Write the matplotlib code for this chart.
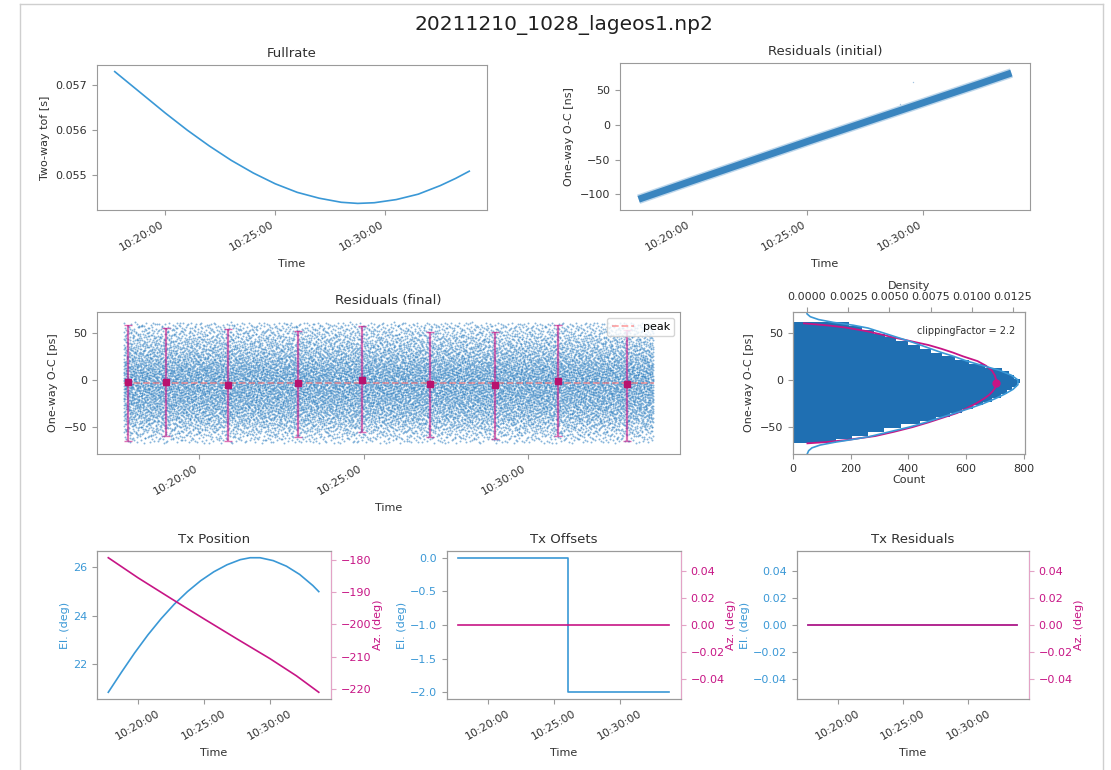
import numpy as np
import pandas as pd
import matplotlib
matplotlib.use("Agg")
import matplotlib.pyplot as plt
import matplotlib.dates as mdates
from matplotlib.lines import Line2D
from matplotlib.ticker import MultipleLocator, FormatStrFormatter

plt.rcParams['font.family'] = ['DejaVu Sans']
plt.rcParams['font.size'] = 8

# times are minutes relative to 10:20:00
T0 = pd.Timestamp("2021-12-10 10:20:00")
t_first, t_last = -2.30, 13.82

# Fullrate: two-way time of flight [s]
fullrate_t = [-2.30, -1.0, 0.0, 1.0, 2.0, 3.0, 4.0, 5.0, 6.0, 7.0, 8.0, 8.75, 9.5, 10.5, 11.5, 12.5, 13.2, 13.82]
fullrate_tof = [0.05730, 0.05678, 0.05638, 0.05600, 0.05565, 0.05533, 0.05505, 0.05481, 0.05462,
                0.05449, 0.05440, 0.054375, 0.05439, 0.05446, 0.05458, 0.05477, 0.05493, 0.05509]

# Residuals (initial) [ns]: centre of the band + a couple of outliers
init_t = [-2.30, 0.0, 2.5, 5.0, 7.5, 10.0, 12.5, 13.82]
init_oc = [-107.5, -81.0, -52.5, -24.0, 4.0, 32.0, 60.0, 75.0]
init_out_t = [9.57, 8.99]
init_out_oc = [61.9, 30.5]

# Residuals (final) [ps]: histogram of residuals (4 ps bins)
hist_centers = [-65, -61, -57, -53, -49, -45, -41, -37, -33, -29, -25, -21, -17, -13, -9, -5,
                -1, 3, 7, 11, 15, 19, 23, 27, 31, 35, 39, 43, 47, 51, 55, 59]
hist_counts = [150, 205, 260, 315, 375, 440, 495, 545, 585, 625, 660, 690, 720, 742, 760, 778,
               788, 768, 750, 725, 665, 612, 562, 518, 480, 440, 400, 358, 318, 280, 240, 195]
bin_w = 4.0

# normal points (2 min bins)
np_t = [-2.15, -1.01, 0.87, 3.02, 4.95, 7.01, 8.99, 10.91, 13.0]
np_mean = [-2.7, -2.7, -5.8, -3.4, 0.3, -4.8, -5.5, -0.7, -4.8]
np_hi = [58.7, 55.3, 53.6, 52.2, 57.3, 51.2, 50.9, 58.7, 53.0]
np_lo = [-65.2, -59.7, -65.2, -60.9, -55.6, -60.1, -62.1, -59.4, -64.5]
peak = -3.0

# fitted curve on histogram (count vs residual)
fit_v = [60.0, 57.5, 55.5, 52, 48.8, 45, 41, 37, 33, 29, 25, 20, 15, 10, 5, 0, -4, -8, -12, -16,
         -20, -25, -30, -35, -40, -45, -50, -55, -59.5, -63.8, -66, -67.2]
fit_c = [38, 130, 183, 250, 298, 350, 410, 470, 515, 555, 590, 640, 670, 690, 700, 705, 706, 702,
         693, 680, 662, 635, 603, 570, 520, 470, 415, 350, 285, 183, 110, 50]
peak_count = 705

# density curve (top axis)
kde_v = [-79, -75, -72, -69, -66, -63, -60, -55, -50, -45, -40, -35, -30, -25, -20, -15, -10, -5,
         0, 5, 10, 15, 20, 25, 30, 35, 40, 45, 50, 55, 58, 61, 64, 67, 70, 72]
kde_d = [0.0, 0.0001, 0.0003, 0.0008, 0.0017, 0.0028, 0.0038, 0.0050, 0.0062, 0.0072, 0.0081,
         0.0090, 0.0099, 0.0107, 0.0114, 0.0120, 0.0125, 0.0128, 0.0128, 0.0124, 0.0117, 0.0107,
         0.0097, 0.0089, 0.0080, 0.0072, 0.0064, 0.0055, 0.0046, 0.0037, 0.0028, 0.0016, 0.0007,
         0.0002, 0.0, 0.0]

# Tx position
pos_t = [-2.25, -1.25, -0.25, 0.75, 1.75, 2.75, 3.75, 4.75, 5.75, 6.75, 7.75, 8.5, 9.25, 10.25,
         11.25, 12.25, 13.25, 13.7]
pos_el = [20.83, 21.66, 22.46, 23.20, 23.87, 24.47, 24.99, 25.44, 25.81, 26.10, 26.31, 26.39,
          26.39, 26.27, 26.04, 25.70, 25.24, 24.99]
az_t = [-2.25, 0.0, 2.5, 5.0, 7.5, 10.0, 12.0, 13.7]
pos_az = [-179.4, -185.6, -192.0, -198.3, -204.5, -210.6, -215.9, -221.0]

# Tx offsets
off_t = [-2.25, 6.1, 6.1, 13.7]
off_el = [0.0, 0.0, -2.0, -2.0]
off_az_t = [-2.25, 13.7]
off_az = [0.0, 0.0]

# Tx residuals
res_t = [-2.25, 13.7]
res_el = [0.0, 0.0]
res_az = [0.0, 0.0]

BLUE = '#1f6fb2'
LBLUE = '#3a98d6'
MAG = '#c71585'
PINK = '#e3a3c6'
SPINE = '#9a9a9a'
TXT = '#303030'


def to_time(m):
    return (T0 + pd.to_timedelta(np.asarray(m, dtype=float), unit="min")).to_numpy()


def halton(k, base):
    # quasi-random placement of the residual points inside the pass
    k = np.array(k, dtype=np.int64)
    r = np.zeros(len(k))
    f = 1.0 / base
    while np.any(k > 0):
        r += f * (k % base)
        k //= base
        f /= base
    return r


W, H = 1111, 770
fig = plt.figure(figsize=(W / 100, H / 100), dpi=100)


def box(l, t, r, b):
    return [l / W, 1 - b / H, (r - l) / W, (b - t) / H]


def style(ax):
    for s in ax.spines.values():
        s.set_color(SPINE)
    ax.tick_params(colors=SPINE, labelcolor=TXT, labelsize=8)
    ax.title.set_color(TXT)


def time_axis(ax, ha):
    span = t_last - t_first
    ax.set_xlim(to_time([t_first - 0.05 * span, t_last + 0.05 * span]))
    ax.xaxis.set_major_locator(mdates.MinuteLocator(byminute=range(0, 60, 5)))
    ax.xaxis.set_major_formatter(mdates.DateFormatter('%H:%M:%S'))
    for lab in ax.get_xticklabels():
        lab.set_rotation(30)
        lab.set_ha(ha)
    ax.set_xlabel('Time', color=TXT)


# Fullrate
ax1 = fig.add_axes(box(97, 65, 487, 210))
ax1.plot(to_time(fullrate_t), fullrate_tof, color=LBLUE, lw=1.2)
ax1.set_title('Fullrate', fontsize=9.5)
ax1.set_ylabel('Two-way tof [s]', color=TXT)
style(ax1)
time_axis(ax1, 'right')

# Residuals (initial)
ax2 = fig.add_axes(box(620, 63, 1030, 210))
ax2.plot(to_time(init_t), init_oc, color='#2a7dc0', lw=7, alpha=0.3, solid_capstyle='butt')
ax2.plot(to_time(init_t), init_oc, color='#2377b8', lw=5, alpha=0.85, solid_capstyle='butt')
ax2.scatter(to_time(init_out_t), init_out_oc, s=1, color=BLUE, alpha=0.4, lw=0)
ax2.set_ylim(-123, 89.5)
ax2.set_title('Residuals (initial)', fontsize=9.5)
ax2.set_ylabel('One-way O-C [ns]', color=TXT)
style(ax2)
time_axis(ax2, 'right')

# Residuals (final): as many points as the histogram holds, spread over the pass
edges = np.append(np.array(hist_centers) - bin_w / 2, hist_centers[-1] + bin_w / 2)
cum = np.concatenate([[0], np.cumsum(hist_counts)])
k = np.arange(1, cum[-1] + 1)
sx = t_first + (t_last - t_first) * halton(k, 2)
sy = np.interp(halton(k, 3) * cum[-1], cum, edges)

ax3 = fig.add_axes(box(97, 312, 680, 454))
ax3.scatter(to_time(sx), sy, s=2.0, color='#2479bd', alpha=0.55, lw=0)
ax3.hlines(peak, to_time([t_first])[0], to_time([t_last])[0], colors='#ff6f6f', linestyles='--',
           lw=1.3, alpha=0.6, label='peak', zorder=3)
np_mean_a = np.array(np_mean)
yerr = [np_mean_a - np.array(np_lo), np.array(np_hi) - np_mean_a]
ax3.errorbar(to_time(np_t), np_mean, yerr=yerr, fmt='none', ecolor=MAG, elinewidth=1.6,
             capsize=3, alpha=0.6, zorder=4)
ax3.plot(to_time(np_t), np_mean, 's', color='#b8126e', ms=5, zorder=5)
ax3.set_ylim(-78.5, 72)
ax3.set_title('Residuals (final)', fontsize=9.5)
ax3.set_ylabel('One-way O-C [ps]', color=TXT)
ax3.legend(loc='upper right', fontsize=8, handlelength=2, framealpha=0.8)
style(ax3)
time_axis(ax3, 'right')

# Histogram
ax4 = fig.add_axes(box(793, 312, 1025, 454), sharey=ax3)
ax4.barh(hist_centers, hist_counts, height=bin_w, color=BLUE, lw=0)
ax4.plot(fit_c, fit_v, color=MAG, lw=1.3, zorder=4)
ax4.plot([peak_count], [peak], 'o', color=MAG, ms=5, zorder=5)
ax4.set_xlim(0, 805)
ax4.set_xlabel('Count', color=TXT, labelpad=1)
ax4.set_ylabel('One-way O-C [ps]', color=TXT)
ax4.text(0.96, 0.9, 'clippingFactor = 2.2', transform=ax4.transAxes, ha='right', va='top',
         fontsize=7, color=TXT)
style(ax4)
ax4d = ax4.twiny()
ax4d.plot(kde_d, kde_v, color=LBLUE, lw=1.2)
ax4d.set_xlim(-0.00085, 0.01323)
ax4d.xaxis.set_major_locator(MultipleLocator(0.0025))
ax4d.xaxis.set_major_formatter(FormatStrFormatter('%.4f'))
ax4d.set_xlabel('Density', color=TXT, labelpad=2)
style(ax4d)


# Tx panels
def tx_panel(rect, title, t_el, el, t_az, az):
    ax = fig.add_axes(box(*rect))
    ax.plot(to_time(t_el), el, color=LBLUE, lw=1.2)
    ax.set_title(title, fontsize=9.5)
    style(ax)
    ax.tick_params(axis='y', labelcolor=LBLUE)
    ax.set_ylabel('El. (deg)', color=LBLUE, labelpad=2)
    axr = ax.twinx()
    axr.plot(to_time(t_az), az, color=MAG, lw=1.2)
    style(axr)
    axr.spines['right'].set_color(PINK)
    axr.tick_params(axis='y', colors=PINK, labelcolor=MAG, labelsize=8)
    axr.set_ylabel('Az. (deg)', color=MAG, labelpad=1)
    time_axis(ax, 'center')
    return ax, axr


tx_panel((97, 551, 331, 699), 'Tx Position', pos_t, pos_el, az_t, pos_az)
tx_panel((447, 551, 681, 699), 'Tx Offsets', off_t, off_el, off_az_t, off_az)
tx_panel((797, 551, 1029, 699), 'Tx Residuals', res_t, res_el, res_t, res_az)

fig.text(0.508, 1 - 25 / H, '20211210_1028_lageos1.np2', ha='center', va='center',
         fontsize=14.5, color='#202020')

# page frame around the figure
for xs, ys in [([20, 20], [4, H]), ([1103, 1103], [4, H]), ([20, 1103], [4, 4])]:
    fig.add_artist(Line2D([x / W for x in xs], [1 - y / H for y in ys], color='#cfcfcf', lw=1))

fig.savefig('out.png', dpi=100)
